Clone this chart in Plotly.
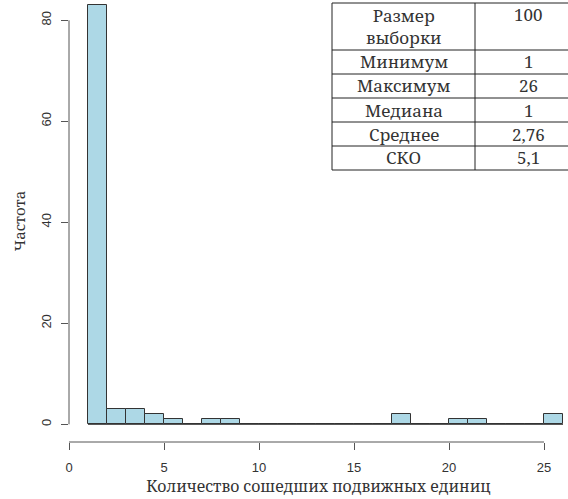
import plotly.graph_objects as go

# ---- data ----
bin_left = list(range(1, 26))
counts = [83, 3, 3, 2, 1, 0, 1, 1, 0, 0, 0, 0, 0, 0, 0, 0, 2, 0, 0, 1, 1, 0, 0, 0, 2]
bin_width = 1
x_ticks = [0, 5, 10, 15, 20, 25]
y_ticks = [0, 20, 40, 60, 80]
stat_names = ["Размер<br>выборки", "Минимум", "Максимум", "Медиана", "Среднее", "СКО"]
stat_values = ["100", "1", "26", "1", "2,76", "5,1"]

W, H = 568, 499
ML, MR, MT, MB = 69, 0, 0, 57
PW, PH = W - ML - MR, H - MT - MB

SERIF = "Noto Serif"
SANS = "Liberation Sans"

def px2x(px):
    return (px - ML) / PW

def py2y(py):
    return (H - MB - py) / PH

centers = [b + bin_width / 2 for b in bin_left]

fig = go.Figure()
fig.add_trace(go.Bar(
    x=centers, y=counts, width=[bin_width] * len(counts),
    marker=dict(color="#ADD8E6", line=dict(color="#333333", width=1)),
    hoverinfo="x+y", showlegend=False,
))

shapes = []
shapes.append(dict(type="line", xref="x", yref="y", x0=bin_left[0], x1=bin_left[-1] + bin_width,
                   y0=0, y1=0, line=dict(color="#333333", width=1), layer="below"))
shapes.append(dict(type="line", xref="x", yref="paper", x0=x_ticks[0], x1=x_ticks[-1], y0=0, y1=0,
                   line=dict(color="#555555", width=1)))
shapes.append(dict(type="line", xref="paper", yref="y", x0=0, x1=0, y0=y_ticks[0], y1=y_ticks[-1],
                   line=dict(color="#555555", width=1)))

row_px = [3, 50, 74, 98, 122, 146, 170]
col_px = [332, 475, 582]
shapes.append(dict(type="rect", xref="paper", yref="paper",
                   x0=px2x(col_px[0]), x1=px2x(col_px[-1]), y0=py2y(row_px[-1]), y1=py2y(row_px[0]),
                   fillcolor="white", line=dict(color="#222222", width=1)))
for r in row_px[1:-1]:
    shapes.append(dict(type="line", xref="paper", yref="paper",
                       x0=px2x(col_px[0]), x1=px2x(col_px[-1]), y0=py2y(r), y1=py2y(r),
                       line=dict(color="#222222", width=1)))
shapes.append(dict(type="line", xref="paper", yref="paper",
                   x0=px2x(col_px[1]), x1=px2x(col_px[1]), y0=py2y(row_px[-1]), y1=py2y(row_px[0]),
                   line=dict(color="#222222", width=1)))

annotations = []
tfont = dict(family=SERIF, size=17, color="#333333")
for i, (n, v) in enumerate(zip(stat_names, stat_values)):
    cy = (row_px[i] + row_px[i + 1]) / 2
    annotations.append(dict(xref="paper", yref="paper", x=px2x((col_px[0] + col_px[1]) / 2), y=py2y(cy),
                            text=n, showarrow=False, font=tfont, xanchor="center", yanchor="middle"))
    vy = 14 if i == 0 else cy
    annotations.append(dict(xref="paper", yref="paper", x=px2x((col_px[1] + col_px[2]) / 2), y=py2y(vy),
                            text=v, showarrow=False, font=tfont, xanchor="center", yanchor="middle"))

fig.update_layout(
    width=W, height=H,
    margin=dict(l=ML, r=MR, t=MT, b=MB, pad=0),
    paper_bgcolor="white", plot_bgcolor="white",
    bargap=0,
    shapes=shapes,
    annotations=annotations,
    xaxis=dict(
        range=[0, (W - ML) / 19.0], tickvals=x_ticks, ticktext=[str(t) for t in x_ticks],
        ticks="outside", ticklen=7, tickwidth=1, tickcolor="#555555", ticklabelstandoff=6,
        showgrid=False, zeroline=False, showline=False,
        tickfont=dict(family=SANS, size=13, color="#333333"),
        title=dict(text="Количество сошедших подвижных единиц", standoff=5,
                   font=dict(family=SERIF, size=15.8, color="#333333")),
    ),
    yaxis=dict(
        range=[-3.5, 84.02], tickvals=y_ticks, ticktext=[str(t) for t in y_ticks], tickangle=-90,
        ticks="outside", ticklen=7, tickwidth=1, tickcolor="#555555", ticklabelstandoff=5,
        showgrid=False, zeroline=False, showline=False,
        tickfont=dict(family=SANS, size=13, color="#333333"),
        title=dict(text="Частота", standoff=9,
                   font=dict(family=SERIF, size=15, color="#333333")),
    ),
)

fig.write_html("out.html")
